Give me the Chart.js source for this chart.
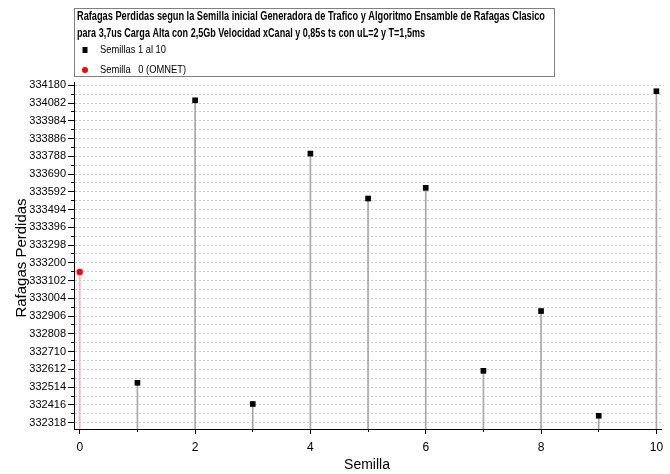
<!DOCTYPE html>
<html><head><meta charset="utf-8">
<script src="https://cdn.jsdelivr.net/npm/chart.js@4/dist/chart.umd.min.js"></script>
<style>html,body{margin:0;padding:0;background:#fff}</style>
</head><body>
<canvas id="c" width="670" height="474"></canvas>
<script>
// ---- data ----
const seeds = [1, 2, 3, 4, 5, 6, 7, 8, 9, 10];
const losses = [332538, 334097, 332421, 333803, 333555, 333614, 332604, 332934, 332356, 334147];
const omnetSeed = [0];
const omnetLoss = [333150];
const yTickValues = [332318, 332416, 332514, 332612, 332710, 332808, 332906, 333004, 333102, 333200,
                     333298, 333396, 333494, 333592, 333690, 333788, 333886, 333984, 334082, 334180];
const xTickValues = [0, 2, 4, 6, 8, 10];
const titleLines = [
  'Rafagas Perdidas segun la Semilla inicial Generadora de Trafico y Algoritmo Ensamble de Rafagas Clasico',
  'para 3,7us Carga Alta con 2,5Gb Velocidad xCanal y 0,85s ts con uL=2 y T=1,5ms'
];
const legendLabels = ['Semillas 1 al 10', 'Semilla   0 (OMNET)'];
const xTitle = 'Semilla';
const yTitle = 'Rafagas Perdidas';

const yMin = 332283, yMax = 334198, xMin = -0.1, xMax = 10.08;
const NARROW = '"Liberation Sans Narrow", "Liberation Sans", Arial, sans-serif';
const SANS = '"Liberation Sans", Arial, sans-serif';

// all gridline positions (major ticks plus the half-steps between them)
const yGridValues = [];
yTickValues.forEach((v, i) => {
  yGridValues.push(v);
  if (i < yTickValues.length - 1) yGridValues.push((v + yTickValues[i + 1]) / 2);
});
const isMajor = v => yTickValues.includes(v);

function fitText(ctx, txt, x, y, w, font) {
  ctx.font = font;
  const m = ctx.measureText(txt).width;
  const s = w / m;
  ctx.save();
  ctx.translate(x, y);
  ctx.scale(s, 1);
  ctx.textBaseline = 'middle';
  ctx.textAlign = 'left';
  ctx.fillText(txt, 0, 0);
  ctx.restore();
}

const decor = {
  id: 'decor',
  afterDraw(chart) {
    const ctx = chart.ctx;
    ctx.save();
    ctx.fillStyle = '#000';
    ctx.strokeStyle = '#808080';
    ctx.lineWidth = 1;
    ctx.strokeRect(74.5, 8.5, 480, 68);
    fitText(ctx, titleLines[0], 77, 17, 468, 'bold 12px ' + NARROW);
    fitText(ctx, titleLines[1], 77, 33.5, 348, 'bold 12px ' + NARROW);
    ctx.fillStyle = '#000';
    ctx.fillRect(82.5, 47, 5, 6);
    ctx.fillStyle = '#ff0000';
    ctx.beginPath(); ctx.arc(85, 70, 3, 0, Math.PI * 2); ctx.fill();
    ctx.fillStyle = '#000';
    fitText(ctx, legendLabels[0], 100, 50, 66, '11px ' + NARROW);
    fitText(ctx, legendLabels[1], 100, 70, 86, '11px ' + NARROW);
    ctx.font = '15px ' + SANS;
    ctx.textAlign = 'center';
    ctx.textBaseline = 'middle';
    ctx.save();
    ctx.translate(22, 258);
    ctx.rotate(-Math.PI / 2);
    ctx.fillText(yTitle, 0, 0);
    ctx.restore();
    ctx.font = '14px ' + SANS;
    ctx.fillText(xTitle, 367, 465);
    ctx.restore();
  }
};

const stemBlack = seeds.map((s, i) => ({x: s, y: [yMin, losses[i]]}));
const stemRed = omnetSeed.map((s, i) => ({x: s, y: [yMin, omnetLoss[i]]}));

new Chart(document.getElementById('c'), {
  data: {
    datasets: [
      {type: 'scatter', label: legendLabels[0], data: seeds.map((s, i) => ({x: s, y: losses[i]})),
       pointStyle: 'rect', pointRadius: 4, backgroundColor: '#000', borderColor: '#000', borderWidth: 0, order: 0, yAxisID: 'y'},
      {type: 'scatter', label: legendLabels[1], data: omnetSeed.map((s, i) => ({x: s, y: omnetLoss[i]})),
       pointStyle: 'circle', pointRadius: 3.2, backgroundColor: '#ff0000', borderColor: '#ff0000', borderWidth: 0, order: 0, yAxisID: 'y'},
      {type: 'bar', data: stemBlack, backgroundColor: '#a8a8a8', barThickness: 1, grouped: false, order: 2, yAxisID: 'y'},
      {type: 'bar', data: stemRed, backgroundColor: '#f5b5c1', barThickness: 1, grouped: false, order: 2, yAxisID: 'y'}
    ]
  },
  options: {
    responsive: false,
    animation: false,
    layout: {padding: {top: 82, right: 9, bottom: 0, left: 0}},
    plugins: {legend: {display: false}, tooltip: {enabled: false}, title: {display: false}},
    scales: {
      x: {
        type: 'linear', position: 'bottom', min: xMin, max: xMax, weight: 1, offset: false,
        afterBuildTicks: a => { a.ticks = xTickValues.map(v => ({value: v})); },
        afterFit: a => { a.height = 45; },
        ticks: {color: '#000', font: {family: NARROW, size: 12}, padding: 6, maxRotation: 0,
                callback: v => String(v)},
        grid: {drawOnChartArea: false, drawTicks: true, tickLength: 5, color: '#000', offset: false},
        border: {display: true, color: '#000', width: 1}
      },
      x2: {
        type: 'linear', position: 'bottom', min: xMin, max: xMax, weight: 0, offset: false,
        afterBuildTicks: a => { a.ticks = seeds.filter(s => s % 2 === 1).map(v => ({value: v})); },
        afterFit: a => { a.height = 0; },
        ticks: {display: false},
        grid: {drawOnChartArea: false, drawTicks: true, tickLength: 3, color: '#000'},
        border: {display: false}
      },
      y: {
        type: 'linear', position: 'left', min: yMin, max: yMax, weight: 1,
        afterBuildTicks: a => { a.ticks = yGridValues.map(v => ({value: v})); },
        afterFit: a => { a.width = 74; },
        ticks: {color: '#000', font: {family: NARROW, size: 11}, padding: 2, autoSkip: false,
                callback: v => isMajor(v) ? String(v) : ''},
        grid: {drawOnChartArea: true, drawTicks: true, tickLength: 6, lineWidth: 1,
               color: '#cacaca',
               tickColor: c => (c.tick && isMajor(c.tick.value)) ? '#000' : 'rgba(0,0,0,0)'},
        border: {display: true, color: '#000', width: 1, dash: [2, 2]}
      },
      y2: {
        type: 'linear', position: 'left', min: yMin, max: yMax, weight: 0,
        afterBuildTicks: a => { a.ticks = yGridValues.filter(v => !isMajor(v)).map(v => ({value: v})); },
        afterFit: a => { a.width = 0; },
        ticks: {display: false},
        grid: {drawOnChartArea: false, drawTicks: true, tickLength: 3, color: '#000'},
        border: {display: false}
      }
    }
  },
  plugins: [decor]
});
</script>
</body></html>
